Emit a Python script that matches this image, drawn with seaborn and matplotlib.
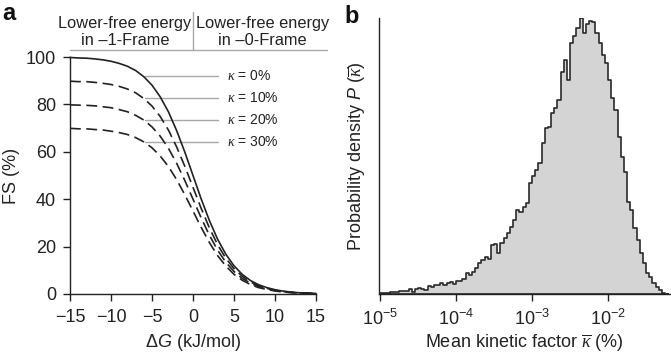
import numpy as np
import matplotlib
matplotlib.use("Agg")
import matplotlib.pyplot as plt
from matplotlib.ticker import NullLocator, FixedLocator
import seaborn as sns

# ---------------- data ----------------
dG = list(range(-15, 16))
fs_k0 = [99.8, 99.6, 99.5, 99.2, 98.8, 98.2, 97.3, 96.1, 94.3, 91.7, 88.1, 83.2, 76.9, 69.0, 59.9, 50.0,
         40.1, 31.0, 23.1, 16.8, 11.9, 8.3, 5.7, 3.9, 2.7, 1.8, 1.2, 0.8, 0.5, 0.4, 0.2]
fs_k10 = [89.8, 89.6, 89.6, 89.3, 88.9, 88.4, 87.6, 86.5, 84.9, 82.5, 79.3, 74.9, 69.2, 62.1, 53.9, 45.0,
          36.1, 27.9, 20.8, 15.1, 10.7, 7.5, 5.1, 3.5, 2.4, 1.6, 1.1, 0.7, 0.5, 0.4, 0.2]
fs_k20 = [79.8, 79.7, 79.6, 79.4, 79.0, 78.6, 77.8, 76.9, 75.4, 73.4, 70.5, 66.6, 61.5, 55.2, 47.9, 40.0,
          32.1, 24.8, 18.5, 13.4, 9.5, 6.6, 4.6, 3.1, 2.2, 1.4, 1.0, 0.6, 0.4, 0.3, 0.2]
fs_k30 = [69.9, 69.7, 69.7, 69.4, 69.2, 68.7, 68.1, 67.3, 66.0, 64.2, 61.7, 58.2, 53.8, 48.3, 41.9, 35.0,
          28.1, 21.7, 16.2, 11.8, 8.3, 5.8, 4.0, 2.7, 1.9, 1.3, 0.8, 0.6, 0.4, 0.3, 0.1]
kappa_labels = ["0%", "10%", "20%", "30%"]
kappa_label_y = [92.1, 82.6, 73.4, 64.3]

# panel b: histogram of log10(mean kinetic factor), 24 bins per decade starting at 1e-5
hist_heights = [0.7, 1.0, 1.5, 1.7, 2.3, 2.0, 2.7, 3.3, 3.5, 4.7,
                2.5, 5.5, 6.0, 5.0, 4.3, 8.0, 7.0, 9.0, 8.7, 10.7,
                9.3, 11.0, 12.3, 10.5, 13.0, 13.5, 15.3, 20.7, 19.0, 22.0,
                25.7, 30.7, 34.0, 37.0, 34.7, 49.0, 50.0, 40.7, 51.0, 56.0,
                61.0, 67.0, 74.0, 84.0, 82.0, 87.0, 91.0, 111.0, 118.0, 124.0,
                131.0, 151.0, 166.0, 167.0, 181.0, 186.0, 194.0, 222.0, 234.0, 214.0,
                251.0, 258.0, 266.0, 276.0, 261.0, 270.0, 273.0, 272.0, 261.0, 251.0,
                239.0, 231.0, 214.0, 196.0, 184.0, 157.0, 137.0, 122.0, 92.0, 84.0,
                66.0, 54.0, 41.0, 31.0, 21.0, 17.0, 11.0, 7.0, 4.0, 1.5, 0.5]
log_start = -5.0
bins_per_decade = 24
n_bins = len(hist_heights)
log_edges = log_start + np.arange(n_bins + 1) / bins_per_decade
log_centers = (log_edges[:-1] + log_edges[1:]) / 2
kbar = 10 ** log_centers

# ---------------- style ----------------
sns.set_style("ticks")
plt.rcParams["font.family"] = ["Liberation Sans", "DejaVu Sans"]
plt.rcParams["mathtext.fontset"] = "custom"
plt.rcParams["mathtext.rm"] = "Liberation Sans"
plt.rcParams["mathtext.it"] = "Liberation Serif:italic"
plt.rcParams["mathtext.sf"] = "Liberation Sans:italic"
plt.rcParams["mathtext.bf"] = "Liberation Sans:bold"

TXT = "#222222"
GREY = "#a8a8a8"
FS = 13

fig = plt.figure(figsize=(6.71, 3.55), dpi=100)
axA = fig.add_axes([70 / 671, 1 - 294 / 355, 246 / 671, 237 / 355])
axB = fig.add_axes([379 / 671, 1 - 294 / 355, 291 / 671, 276 / 355])

# ---------------- panel a ----------------
dash = (0, (6.5, 3.3))
sns.lineplot(x=dG, y=fs_k0, ax=axA, color="#222222", linewidth=1.2, clip_on=False)
for ys in (fs_k10, fs_k20, fs_k30):
    sns.lineplot(x=dG, y=ys, ax=axA, color="#222222", linewidth=1.2, linestyle=dash, clip_on=False)

axA.set_xlim(-15, 15)
axA.set_ylim(0, 100)
axA.xaxis.set_major_locator(FixedLocator([-15, -10, -5, 0, 5, 10, 15]))
axA.yaxis.set_major_locator(FixedLocator([0, 20, 40, 60, 80, 100]))
axA.tick_params(direction="out", length=5, width=1.0, labelsize=FS, colors=TXT)
axA.tick_params(axis="x", pad=6)
axA.tick_params(axis="y", pad=5)
for s in ("top", "right"):
    axA.spines[s].set_visible(False)
for s in ("left", "bottom"):
    axA.spines[s].set_linewidth(1.0)
    axA.spines[s].set_color(TXT)
axA.set_xlabel("Δ$\\mathsf{G}$ (kJ/mol)", fontsize=FS, color=TXT, labelpad=4)
axA.set_ylabel("FS (%)", fontsize=FS, color=TXT, labelpad=4)

# kappa annotation lines and labels
for lab, yv in zip(kappa_labels, kappa_label_y):
    axA.plot([-5.9, 3.05], [yv, yv], color=GREY, linewidth=1.0, zorder=1)
    axA.text(4.1, yv, "$\\kappa$ = " + lab, fontsize=10, color=TXT, va="center", ha="left")

# header
axA.plot([-15, 16.3], [103, 103], color=GREY, linewidth=1.0, clip_on=False)
axA.plot([0, 0], [103, 119], color=GREY, linewidth=1.0, clip_on=False)
axA.text(-8.3, 112.2, "Lower-free energy", fontsize=11.8, color=TXT, ha="center", va="baseline")
axA.text(-8.3, 105.0, "in \u20131-Frame", fontsize=11.8, color=TXT, ha="center", va="baseline")
axA.text(8.5, 112.2, "Lower-free energy", fontsize=11.8, color=TXT, ha="center", va="baseline")
axA.text(8.5, 105.0, "in \u20130-Frame", fontsize=11.8, color=TXT, ha="center", va="baseline")

# ---------------- panel b ----------------
sns.histplot(x=kbar, weights=hist_heights, bins=log_edges.tolist(), log_scale=True, element="step",
             fill=True, color="#d4d4d4", edgecolor="#2a2a2a", linewidth=1.2, alpha=1.0, ax=axB)
axB.set_xlim(10 ** -5.015, 10 ** -1.185)
axB.set_ylim(0, 276)
axB.set_yticks([])
axB.xaxis.set_major_locator(FixedLocator([1e-5, 1e-4, 1e-3, 1e-2]))
axB.xaxis.set_minor_locator(NullLocator())
axB.tick_params(axis="x", direction="out", length=5, width=1.0, labelsize=FS, colors=TXT, pad=6)
for s in ("top", "right"):
    axB.spines[s].set_visible(False)
for s in ("left", "bottom"):
    axB.spines[s].set_linewidth(1.0)
    axB.spines[s].set_color(TXT)
axB.set_xlabel("Mean kinetic factor $\\overline{\\kappa}$ (%)", fontsize=FS, color=TXT, labelpad=2)
axB.set_ylabel("Probability density $\\mathsf{P}$ ($\\overline{\\kappa}$)", fontsize=FS, color=TXT, labelpad=8)

# panel letters
fig.text(0.003, 0.995, "a", fontsize=17, fontweight="bold", va="top", ha="left", color="#111111")
fig.text(0.513, 0.985, "b", fontsize=17, fontweight="bold", va="top", ha="left", color="#111111")

fig.savefig("out.png", dpi=100)
